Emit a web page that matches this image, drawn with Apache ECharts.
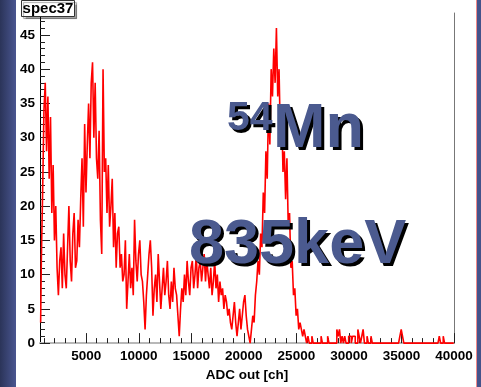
<!DOCTYPE html>
<html>
<head>
<meta charset="utf-8">
<script src="https://cdn.jsdelivr.net/npm/echarts@6/dist/echarts.min.js"></script>
<style>
    html, body {
        margin: 0;
        padding: 0;
        width: 481px;
        height: 387px;
        overflow: hidden;
        background: linear-gradient(to right, #2b3459 0px, #3c4778 9px, #4a5690 16px, #ffffff 16px,
            #ffffff 476px, #f08a8a 476px, #f08a8a 477.5px, #44528a 477.5px);
    }
    #chart {
        width: 481px;
        height: 387px;
    }
</style>
</head>
<body>
<div id="chart"></div>
<script>
    // histogram: 125 ch per bin, first bin starts at 600
    const binStart = 600
    const binWidth = 125
    const counts = [
        3, 12, 22, 34, 38, 28, 36, 24, 33, 19, 26, 15, 20, 11, 7, 12, 14, 8, 16, 10,
        8, 14, 20, 12, 9, 16, 19, 11, 12, 18, 14, 21, 27, 17, 32, 22, 29, 35, 27, 38,
        41, 30, 38, 27, 24, 31, 18, 13, 40, 25, 27, 19, 26, 17, 20, 24, 14, 19, 11, 16,
        17, 11, 13, 9, 10, 15, 5, 9, 13, 8, 11, 7, 18, 12, 9, 13, 15, 10, 9, 6,
        2, 7, 10, 13, 15, 11, 4, 8, 10, 6, 13, 9, 5, 8, 11, 7, 9, 12, 7, 5,
        9, 6, 11, 8, 7, 4, 1, 5, 8, 6, 10, 7, 12, 9, 7, 11, 12, 8, 10, 13,
        8, 11, 12, 9, 11, 13, 9, 12, 10, 8, 11, 7, 9, 12, 8, 10, 6, 9, 7, 8,
        5, 7, 6, 4, 5, 3, 2, 4, 6, 3, 1, 3, 5, 2, 4, 6, 7, 4, 2, 1,
        0, 2, 4, 3, 7, 9, 12, 10, 16, 14, 22, 19, 28, 24, 35, 29, 40, 36, 43, 38,
        46, 36, 40, 30, 34, 25, 28, 21, 27, 17, 19, 11, 12, 7, 8, 4, 5, 2, 3, 2,
        1, 2, 1, 0, 1, 0, 0, 1, 0, 0, 0, 0, 0, 0, 1, 0, 0, 0, 0, 1,
        0, 0, 0, 0, 0, 0, 2, 1, 2, 0, 1, 0, 1, 0, 0, 1, 1, 0, 1, 1,
        0, 0, 2, 1, 0, 1, 2, 0, 0, 1, 0, 0, 1, 0, 0, 0, 0, 0, 0, 0,
        0, 0, 0, 0, 0, 0, 0, 0, 0, 0, 0, 0, 0, 0, 1, 2, 1, 0, 0, 0,
        0, 0, 0, 0, 0, 0, 0, 0, 0, 0, 0, 0, 0, 0, 0, 0, 0, 0, 0, 0,
        0, 0, 0, 0, 1, 0, 0, 1, 0, 0, 0, 0, 0, 0, 0, 0
    ]
    const xMajor = [5000, 10000, 15000, 20000, 25000, 30000, 35000, 40000]
    const xMinor = [1000, 2000, 3000, 4000, 6000, 7000, 8000, 9000, 11000, 12000, 13000, 14000,
        16000, 17000, 18000, 19000, 21000, 22000, 23000, 24000, 26000, 27000, 28000, 29000,
        31000, 32000, 33000, 34000, 36000, 37000, 38000, 39000]
    const yMajor = [0, 5, 10, 15, 20, 25, 30, 35, 40, 45]
    const yMinor = [1, 2, 3, 4, 6, 7, 8, 9, 11, 12, 13, 14, 16, 17, 18, 19, 21, 22, 23, 24,
        26, 27, 28, 29, 31, 32, 33, 34, 36, 37, 38, 39, 41, 42, 43, 44, 46, 47, 48]

    let points = counts.map(function (c, i) {
        return [binStart + (i + 0.5) * binWidth, c]
    })

    let chart = echarts.init(document.getElementById('chart'), null, {renderer: 'canvas'})
    let labelFont = {
        color: '#000',
        fontFamily: 'Liberation Sans, Arial, sans-serif',
        fontWeight: 'bold',
        fontSize: 13.5
    }
    let plain = function (v) {
        return String(v)
    }
    // big annotation text, drawn twice: black copy shifted for the shadow, then blue
    function bigLabel(text, x, y, size) {
        let font = {
            text: text,
            fontFamily: 'Liberation Sans, Arial, sans-serif',
            fontWeight: 'bold',
            fontSize: size
        }
        return [
            {type: 'text', z: 60, x: x + 3, y: y + 3, style: Object.assign({fill: '#000'}, font)},
            {type: 'text', z: 61, x: x, y: y, style: Object.assign({fill: '#4b5a8f'}, font)}
        ]
    }
    let option = {
        animation: false,
        backgroundColor: 'transparent',
        grid: {
            left: 40,
            right: 27,
            top: 13,
            bottom: 35
        },
        xAxis: [
            {
                type: 'value',
                min: 600,
                max: 40000,
                position: 'bottom',
                axisLine: {lineStyle: {color: '#000', width: 1}},
                axisTick: {inside: true, length: 10, customValues: xMajor, lineStyle: {color: '#222'}},
                axisLabel: Object.assign({customValues: xMajor, margin: 6, formatter: plain}, labelFont),
                splitLine: {show: false},
                name: 'ADC out [ch]',
                nameLocation: 'middle',
                nameGap: 18,
                nameTextStyle: labelFont
            },
            {
                type: 'value',
                min: 600,
                max: 40000,
                position: 'bottom',
                axisLine: {show: false},
                axisTick: {inside: true, length: 5, customValues: xMinor, lineStyle: {color: '#222'}},
                axisLabel: {show: false},
                splitLine: {show: false}
            },
            {
                type: 'value',
                min: 600,
                max: 40000,
                position: 'top',
                axisLine: {lineStyle: {color: '#b8b8b8', width: 2}},
                axisTick: {show: false},
                axisLabel: {show: false},
                splitLine: {show: false}
            }
        ],
        yAxis: [
            {
                type: 'value',
                min: 0,
                max: 48.2,
                position: 'left',
                axisLine: {show: true, lineStyle: {color: '#000', width: 1}},
                axisTick: {show: true, inside: true, length: 10, customValues: yMajor, lineStyle: {color: '#222'}},
                axisLabel: Object.assign({customValues: yMajor, margin: 5, formatter: plain}, labelFont),
                splitLine: {show: false}
            },
            {
                type: 'value',
                min: 0,
                max: 48.2,
                position: 'left',
                axisLine: {show: false},
                axisTick: {show: true, inside: true, length: 5, customValues: yMinor, lineStyle: {color: '#222'}},
                axisLabel: {show: false},
                splitLine: {show: false}
            },
            {
                type: 'value',
                min: 0,
                max: 48.2,
                position: 'right',
                axisLine: {show: true, lineStyle: {color: '#777', width: 1}},
                axisTick: {show: false},
                axisLabel: {show: false},
                splitLine: {show: false}
            }
        ],
        series: [
            {
                name: 'spec37',
                type: 'line',
                step: 'middle',
                xAxisIndex: 0,
                yAxisIndex: 0,
                data: points,
                symbol: 'none',
                lineStyle: {color: '#ff0000', width: 1.6},
                z: 5
            }
        ],
        graphic: [
            {
                type: 'rect',
                z: 50,
                shape: {x: 21.5, y: 0.5, width: 53, height: 16},
                style: {
                    fill: '#fff',
                    stroke: '#333',
                    lineWidth: 1,
                    shadowColor: 'rgba(0,0,0,0.35)',
                    shadowOffsetX: 2,
                    shadowOffsetY: 2,
                    shadowBlur: 1
                }
            },
            {
                type: 'text',
                z: 51,
                x: 48,
                y: 9,
                style: {
                    text: 'spec37',
                    fill: '#000',
                    fontFamily: 'Liberation Sans, Arial, sans-serif',
                    fontWeight: 'bold',
                    fontSize: 15,
                    align: 'center',
                    verticalAlign: 'middle'
                }
            }
        ].concat(
            bigLabel('54', 227, 98, 41),
            bigLabel('Mn', 273, 98, 63),
            bigLabel('835keV', 189, 214, 63)
        )
    }
    chart.setOption(option)
</script>
</body>
</html>
